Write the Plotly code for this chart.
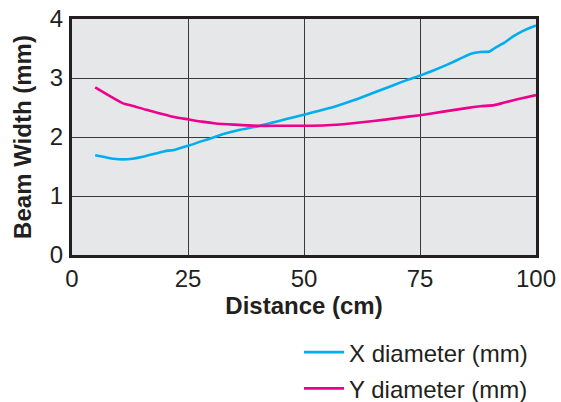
import plotly.graph_objects as go

# Data
x_dist_x = [5, 7, 9, 11, 13, 15, 18, 20, 22, 25, 28, 30, 33, 36, 40, 44, 48, 51, 56, 61, 65, 69, 72, 75, 78, 81, 84, 86, 88, 90, 91, 93, 95, 97, 99, 100]
x_diam = [1.69, 1.66, 1.63, 1.62, 1.63, 1.66, 1.72, 1.76, 1.78, 1.85, 1.93, 1.98, 2.06, 2.12, 2.18, 2.26, 2.34, 2.40, 2.50, 2.63, 2.75, 2.87, 2.96, 3.04, 3.13, 3.23, 3.34, 3.41, 3.44, 3.45, 3.50, 3.59, 3.70, 3.79, 3.86, 3.89]

y_dist_x = [5, 8, 11, 13, 16, 19, 22, 25, 28, 31, 35, 40, 45, 50, 55, 60, 65, 70, 75, 80, 85, 88, 91, 93, 96, 100]
y_diam = [2.84, 2.70, 2.57, 2.53, 2.46, 2.40, 2.34, 2.30, 2.26, 2.23, 2.21, 2.19, 2.19, 2.19, 2.20, 2.23, 2.27, 2.32, 2.37, 2.43, 2.49, 2.52, 2.54, 2.58, 2.64, 2.71]

x_ticks = [0, 25, 50, 75, 100]
y_ticks = [0, 1, 2, 3, 4]

TEXT = "#231f20"
FONT = "Liberation Sans, Arial, sans-serif"

fig = go.Figure()
fig.add_trace(go.Scatter(x=x_dist_x, y=x_diam, mode="lines", name="X diameter (mm)",
                         legendgroup="x",
                         line=dict(color="#00aeef", width=2.6, shape="spline", smoothing=0.5)))
fig.add_trace(go.Scatter(x=y_dist_x, y=y_diam, mode="lines", name="Y diameter (mm)",
                         legendgroup="y",
                         line=dict(color="#ec008c", width=2.6, shape="spline", smoothing=0.5)))

fig.update_layout(
    width=561, height=402,
    margin=dict(l=72, r=25, t=19, b=147, autoexpand=False),
    paper_bgcolor="white",
    plot_bgcolor="#e6e7e8",
    font=dict(family=FONT, color=TEXT, size=24),
    showlegend=True,
    legend=dict(x=0.533, y=0.179, xref="container", yref="container",
                xanchor="left", yanchor="top",
                bgcolor="rgba(0,0,0,0)", font=dict(size=24, color=TEXT),
                tracegroupgap=2, itemwidth=40),
    xaxis=dict(range=[0, 100], tickvals=x_ticks, ticks="", showgrid=True,
               gridcolor="#3a3a3a", gridwidth=1.2, zeroline=False, automargin=False,
               showline=True, linecolor=TEXT, linewidth=3, mirror=True,
               tickfont=dict(size=24), ticklabelstandoff=0,
               title=dict(text="<b>Distance (cm)</b>", font=dict(size=24), standoff=0)),
    yaxis=dict(range=[0, 4], tickvals=y_ticks, ticks="", showgrid=True,
               gridcolor="#3a3a3a", gridwidth=1.2, zeroline=False, automargin=False,
               showline=True, linecolor=TEXT, linewidth=3, mirror=True,
               tickfont=dict(size=24), ticklabelstandoff=1,
               title=dict(text="<b>Beam Width (mm)</b>", font=dict(size=24), standoff=12)),
)

fig.write_html("out.html")
